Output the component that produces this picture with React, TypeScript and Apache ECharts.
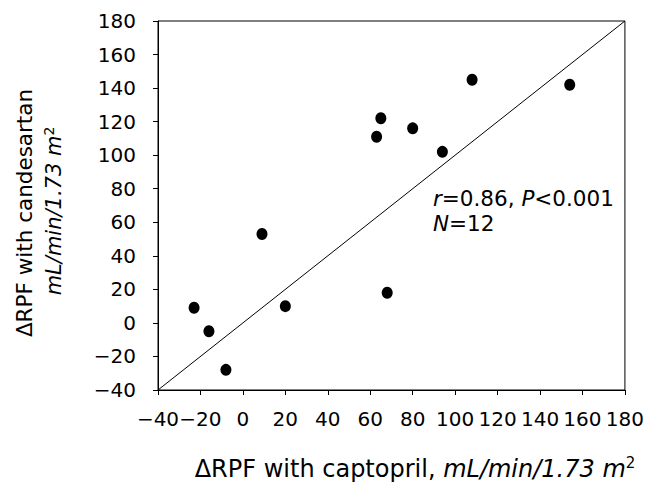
import React, { useEffect, useRef } from "react";
import * as echarts from "echarts";

const captopril = [-23, -16, -8, 9, 20, 63, 65, 68, 80, 94, 108, 154];
const candesartan = [9, -5, -28, 53, 10, 111, 122, 18, 116, 102, 145, 142];
const identityLine = [[-40, -40], [180, 180]];
const axisMin = -40;
const axisMax = 180;
const axisStep = 20;

const FONT = "DejaVu Sans";

export default function App() {
  const ref = useRef<HTMLDivElement>(null);
  useEffect(() => {
    if (!ref.current) return;
    const chart = echarts.init(ref.current, null, { renderer: "svg" });
    const points = captopril.map((x, i) => [x, candesartan[i]]);
    const fmt = (v: number) => String(v).replace("-", "\u2212");
    const axisCommon = {
      type: "value" as const,
      min: axisMin,
      max: axisMax,
      interval: axisStep,
      splitLine: { show: false },
      axisLine: { show: true, onZero: false, lineStyle: { color: "#000", width: 1 } },
      axisTick: { show: true, inside: false, length: 5, lineStyle: { color: "#000" } },
    };
    chart.setOption({
      animation: false,
      backgroundColor: "#fff",
      grid: {
        left: 158,
        right: 22,
        top: 21,
        bottom: 94,
        show: true,
        borderColor: "#000",
        borderWidth: 1,
        containLabel: false,
      },
      xAxis: {
        ...axisCommon,
        axisLabel: { color: "#000", fontFamily: FONT, fontSize: 20, margin: 19, formatter: fmt },
      },
      yAxis: {
        ...axisCommon,
        axisLabel: { color: "#000", fontFamily: FONT, fontSize: 20, margin: 22, formatter: fmt },
      },
      series: [
        {
          type: "line",
          data: identityLine,
          symbol: "none",
          lineStyle: { color: "#000", width: 1 },
          silent: true,
        },
        {
          type: "scatter",
          data: points,
          symbol: "circle",
          symbolSize: [11, 12],
          itemStyle: { color: "#000", opacity: 1 },
        },
      ],
      graphic: [
        {
          type: "text",
          x: 415,
          y: 469,
          style: {
            text: "{n|\u0394RPF with captopril, }{i|mL/min/1.73 m}{s|2}",
            align: "center",
            verticalAlign: "middle",
            rich: {
              n: { fontFamily: FONT, fontSize: 24, fill: "#000", lineHeight: 28 },
              i: { fontFamily: FONT, fontSize: 24, fontStyle: "italic", fill: "#000", lineHeight: 28 },
              s: { fontFamily: FONT, fontSize: 15, fill: "#000", verticalAlign: "top", lineHeight: 28 },
            },
          },
        },
        {
          type: "text",
          x: 24,
          y: 213,
          rotation: Math.PI / 2,
          style: {
            text: "\u0394RPF with candesartan",
            align: "center",
            verticalAlign: "middle",
            fontFamily: FONT,
            fontSize: 21.5,
            fill: "#000",
          },
        },
        {
          type: "text",
          x: 54,
          y: 211,
          rotation: Math.PI / 2,
          style: {
            text: "{i|mL/min/1.73 m}{s|2}",
            align: "center",
            verticalAlign: "middle",
            rich: {
              i: { fontFamily: FONT, fontSize: 21, fontStyle: "italic", fill: "#000", lineHeight: 25 },
              s: { fontFamily: FONT, fontSize: 14, fill: "#000", verticalAlign: "top", lineHeight: 25 },
            },
          },
        },
        {
          type: "text",
          x: 433,
          y: 211,
          style: {
            text: "{i|r}{n|=0.86, }{i|P}{n|<0.001}\n{i|N}{n|=12}",
            align: "left",
            verticalAlign: "middle",
            rich: {
              n: { fontFamily: FONT, fontSize: 21.5, fill: "#000", lineHeight: 25 },
              i: { fontFamily: FONT, fontSize: 21.5, fontStyle: "italic", fill: "#000", lineHeight: 25 },
            },
          },
        },
      ],
    });
    return () => chart.dispose();
  }, []);
  return (
    <div
      ref={ref}
      style={{ position: "fixed", left: 0, top: 0, width: 647, height: 484, background: "#fff" }}
    />
  );
}
